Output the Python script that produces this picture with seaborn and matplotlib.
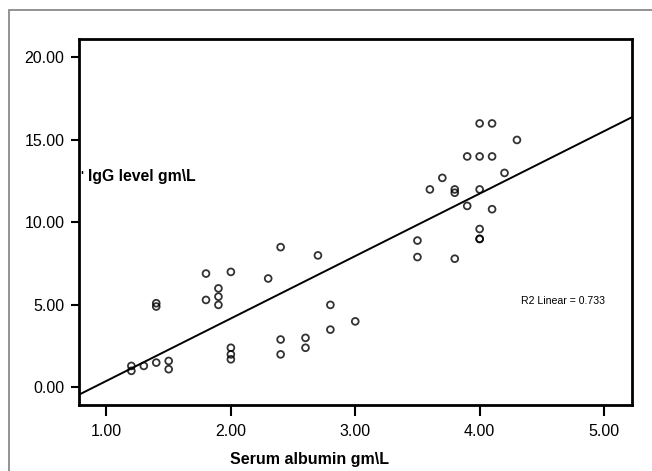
import matplotlib
matplotlib.use("Agg")
import matplotlib.pyplot as plt
import seaborn as sns
import pandas as pd
from matplotlib.patches import Rectangle

# Data
albumin = [1.2, 1.2, 1.3, 1.4, 1.5, 1.5, 1.4, 1.4,
           1.8, 1.8, 1.9, 1.9, 1.9, 2.0, 2.0, 2.0, 2.0,
           2.3, 2.4, 2.4, 2.4, 2.6, 2.6, 2.7, 2.8, 2.8, 3.0,
           3.5, 3.5, 3.6, 3.7, 3.8, 3.8, 3.8, 3.9, 3.9,
           4.0, 4.0, 4.0, 4.0, 4.0, 4.0, 4.1, 4.1, 4.1, 4.2, 4.3]
igg = [1.3, 1.0, 1.3, 1.5, 1.6, 1.1, 5.1, 4.9,
       6.9, 5.3, 6.0, 5.5, 5.0, 7.0, 2.4, 2.0, 1.7,
       6.6, 8.5, 2.9, 2.0, 3.0, 2.4, 8.0, 5.0, 3.5, 4.0,
       8.9, 7.9, 12.0, 12.7, 12.0, 11.8, 7.8, 14.0, 11.0,
       16.0, 14.0, 12.0, 9.6, 9.0, 9.0, 16.0, 14.0, 10.8, 13.0, 15.0]

x_ticks = [1.0, 2.0, 3.0, 4.0, 5.0]
y_ticks = [0.0, 5.0, 10.0, 15.0, 20.0]
x_label = "Serum albumin gm\\L"
y_label = "IgG level gm\\L"
r2_text = "R2 Linear = 0.733"

df = pd.DataFrame({"albumin": albumin, "igg": igg})

sns.set_style("white")
plt.rcParams["font.family"] = ["Liberation Sans", "DejaVu Sans"]
plt.rcParams["text.color"] = "black"
plt.rcParams["xtick.color"] = "black"
plt.rcParams["ytick.color"] = "black"
plt.rcParams["axes.labelcolor"] = "black"

fig = plt.figure(figsize=(6.52, 4.71), dpi=100)
ax = fig.add_axes([78.5 / 652, 1 - 405 / 471, (632 - 78.5) / 652, (405 - 39) / 471])

# outer grey frame (top and left visible)
fig.patches.append(Rectangle((9 / 652, -0.2), 1.2, 1 - 10 / 471 + 0.2,
                             transform=fig.transFigure, fill=False,
                             edgecolor="#8a8a8a", linewidth=1.3, zorder=0))

ax.set_xlim(0.775, 5.225)
ax.set_ylim(-1.07, 21.12)

sns.regplot(data=df, x="albumin", y="igg", ax=ax, ci=None, truncate=False,
            scatter_kws=dict(s=24, facecolors="none", edgecolors="black", linewidths=1.3),
            line_kws=dict(color="black", linewidth=1.4))

ax.set_xlim(0.775, 5.225)
ax.set_ylim(-1.07, 21.12)
ax.set_xticks(x_ticks)
ax.set_yticks(y_ticks)
ax.set_xticklabels([f"{v:.2f}" for v in x_ticks], fontsize=11.5, color="black")
ax.set_yticklabels([f"{v:.2f}" for v in y_ticks], fontsize=11.5, color="black")
ax.tick_params(axis="both", which="major", direction="out", length=6, width=1.5,
               color="black", labelcolor="black", left=True, bottom=True, pad=4)
ax.tick_params(axis="x", length=8, pad=6)

for s in ax.spines.values():
    s.set_visible(True)
    s.set_color("black")
    s.set_linewidth(2.0)

ax.set_xlabel(x_label, fontsize=11.5, fontweight="bold", color="black")
ax.xaxis.set_label_coords((310 - 78.5) / (632 - 78.5), -0.128)
ax.set_ylabel("")

ax.text(0.005, (406 - 178) / 366, "'", transform=ax.transAxes, fontsize=9,
        fontweight="bold", va="center", ha="center", color="black")
ax.text(0.017, (406 - 178) / 366, y_label, transform=ax.transAxes, fontsize=11.3,
        fontweight="bold", va="center", ha="left", color="black")

ax.text((521 - 78.5) / (632 - 78.5), (405 - 301) / 366, r2_text, transform=ax.transAxes,
        fontsize=7.6, va="center", ha="left", color="black")

fig.savefig("out.png", dpi=100)
